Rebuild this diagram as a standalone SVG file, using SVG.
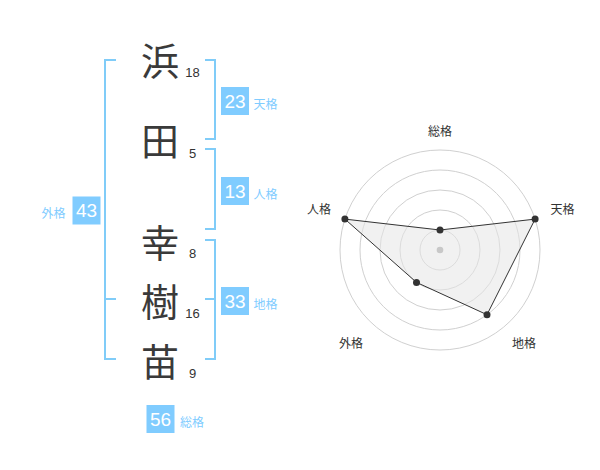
<svg xmlns="http://www.w3.org/2000/svg" width="600" height="470" viewBox="0 0 600 470">
<style>
.ch{font-family:"Noto Sans CJK JP","Noto Sans CJK SC",sans-serif;font-size:38px;font-weight:400;fill:#3a3a3a;text-anchor:middle}
.num{font-family:"Liberation Sans",Arial,sans-serif;font-size:13px;fill:#333;text-anchor:middle}
.br{fill:none;stroke:#80ccf8;stroke-width:2}
.box{fill:#80ccff}
.bt{font-family:"Liberation Sans",Arial,sans-serif;font-size:19px;fill:#fff;text-anchor:middle}
.bl{font-family:"Noto Sans CJK JP","Noto Sans CJK SC",sans-serif;font-size:12px;fill:#80ccff}
.ring{fill:none;stroke:#d0d0d0;stroke-width:1}
.rl{font-family:"Noto Sans CJK JP","Noto Sans CJK SC",sans-serif;font-size:12px;fill:#333;text-anchor:middle}
.dot{fill:#333}
</style>
<rect width="600" height="470" fill="#fff"/>
<g id="chars">
<text class="ch" x="160" y="75">浜</text>
<text class="ch" x="160" y="155">田</text>
<text class="ch" x="160" y="257">幸</text>
<text class="ch" x="160" y="316">樹</text>
<text class="ch" x="160" y="376">苗</text>
</g>
<g id="strokes">
<text class="num" x="192.5" y="77">18</text>
<text class="num" x="192.5" y="158">5</text>
<text class="num" x="192.5" y="258">8</text>
<text class="num" x="192.5" y="318">16</text>
<text class="num" x="192.5" y="378">9</text>
</g>
<g id="connectors">
<path class="br" d="M116,60 H105 V359 H116 M105,299 H116"/>
<path class="br" d="M205,60 H215 V139 H205"/>
<path class="br" d="M205,149 H215 V229 H205"/>
<path class="br" d="M205,240 H215 V359 H205 M205,299 H215"/>
</g>
<g id="tenkaku">
<rect class="box" x="221" y="87" width="28" height="28"/>
<text class="bt" x="235" y="107.5">23</text>
<text class="bl" x="253.5" y="108.5">天格</text>
</g>
<g id="jinkaku">
<rect class="box" x="221" y="177" width="28" height="28"/>
<text class="bt" x="235" y="197.5">13</text>
<text class="bl" x="253.5" y="198.5">人格</text>
</g>
<g id="chikaku">
<rect class="box" x="221" y="287" width="28" height="28"/>
<text class="bt" x="235" y="307.5">33</text>
<text class="bl" x="253.5" y="308.5">地格</text>
</g>
<g id="gaikaku">
<rect class="box" x="72.5" y="196.5" width="28" height="28"/>
<text class="bt" x="86.5" y="217">43</text>
<text class="bl" x="41.5" y="218">外格</text>
</g>
<g id="soukaku">
<rect class="box" x="146.5" y="405" width="28" height="28"/>
<text class="bt" x="160.5" y="425.5">56</text>
<text class="bl" x="180" y="426.5">総格</text>
</g>
<g id="radar">
<circle class="ring" cx="440" cy="250" r="20"/>
<circle class="ring" cx="440" cy="250" r="40"/>
<circle class="ring" cx="440" cy="250" r="60"/>
<circle class="ring" cx="440" cy="250" r="80"/>
<circle class="ring" cx="440" cy="250" r="100"/>
<polygon points="440,230 535.1,219.1 487,314.7 416.5,282.4 344.9,219.1" fill="#e6e6e6" fill-opacity="0.55" stroke="#333" stroke-width="1"/>
<circle cx="440" cy="250" r="3.3" fill="#c8c8c8"/>
<circle class="dot" cx="440" cy="230" r="3.5"/>
<circle class="dot" cx="535.1" cy="219.1" r="3.5"/>
<circle class="dot" cx="487" cy="314.7" r="3.5"/>
<circle class="dot" cx="416.5" cy="282.4" r="3.5"/>
<circle class="dot" cx="344.9" cy="219.1" r="3.5"/>
<text class="rl" x="440" y="135.5">総格</text>
<text class="rl" x="562.5" y="214">天格</text>
<text class="rl" x="319" y="214">人格</text>
<text class="rl" x="351" y="347.5">外格</text>
<text class="rl" x="524" y="347.5">地格</text>
</g>
</svg>
